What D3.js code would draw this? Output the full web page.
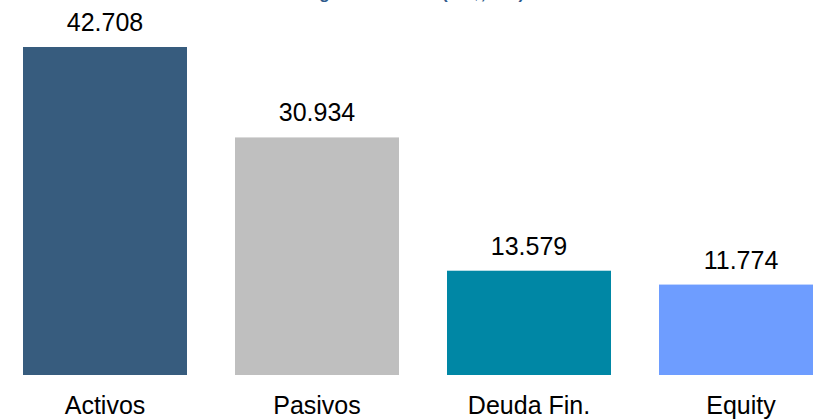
<!DOCTYPE html>
<html>
<head>
<meta charset="utf-8">
<script src="https://cdn.jsdelivr.net/npm/d3@7"></script>
<style>
  body { margin: 0; background: #fff; overflow: hidden; }
  svg { display: block; font-family: "Liberation Sans", Arial, sans-serif; }
</style>
</head>
<body>
<div id="chart"></div>
<script>
// Chart data
const categories = ['Activos', 'Pasivos', 'Deuda Fin.', 'Equity'];
const values = [42.708, 30.934, 13.579, 11.774];
const valueLabels = ['42.708', '30.934', '13.579', '11.774'];
const colors = ['#375C7E', '#BFBFBF', '#0087A5', '#6E9DFF'];
const title = 'Magnitudes clave (US$, MM)';

function renderChart() {
    const width = 813;
    const height = 419;

    const svg = d3.select('#chart')
        .append('svg')
        .attr('width', width)
        .attr('height', height);

    const x = d3.scaleBand()
        .domain(categories)
        .range([-1, 847])
        .paddingInner(0.2264)
        .paddingOuter(0.1132);

    const y = d3.scaleLinear()
        .domain([0, d3.max(values)])
        .range([375, 47]);

    const data = categories.map((c, i) => ({ cat: c, value: values[i], label: valueLabels[i], color: colors[i] }));

    // Title - sits above the visible area, only its descenders show (as in the source)
    svg.append('text')
        .attr('x', 410)
        .attr('y', -1)
        .attr('text-anchor', 'middle')
        .attr('font-size', 17)
        .attr('font-weight', 'bold')
        .attr('fill', '#2F5B8C')
        .text(title);

    svg.selectAll('.bar')
        .data(data)
        .enter().append('rect')
        .attr('class', 'bar')
        .attr('x', d => x(d.cat))
        .attr('y', d => y(d.value))
        .attr('width', x.bandwidth())
        .attr('height', d => y(0) - y(d.value))
        .attr('fill', d => d.color);

    // Value labels
    svg.selectAll('.val')
        .data(data)
        .enter().append('text')
        .attr('class', 'val')
        .attr('x', d => x(d.cat) + x.bandwidth() / 2)
        .attr('y', d => y(d.value) - 16)
        .attr('text-anchor', 'middle')
        .attr('font-size', 25)
        .attr('fill', '#000')
        .text(d => d.label);

    // Category axis
    const axis = svg.append('g')
        .attr('transform', `translate(0,${y(0)})`)
        .call(d3.axisBottom(x).tickSize(0).tickPadding(21));
    axis.select('.domain').remove();
    axis.selectAll('text')
        .attr('font-size', 25)
        .attr('font-family', '"Liberation Sans", Arial, sans-serif')
        .attr('fill', '#000')
        .attr('dy', '0.71em');
}

renderChart();
</script>
</body>
</html>
